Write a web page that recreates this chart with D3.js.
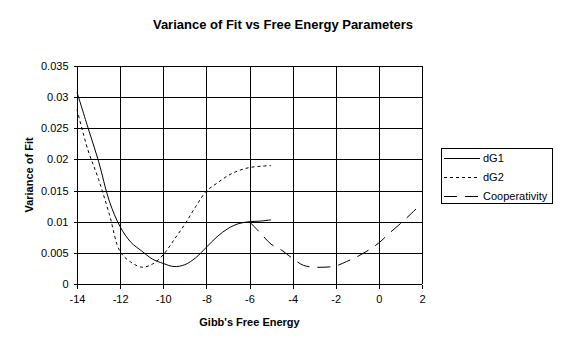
<!DOCTYPE html>
<html>
<head>
<meta charset="utf-8">
<script src="https://cdn.jsdelivr.net/npm/d3@7"></script>
<style>
  body { margin: 0; background: #fff; }
  svg text { font-family: Arial, "Liberation Sans", sans-serif; fill: #000; }
  .axis path, .axis line { stroke: #000; shape-rendering: crispEdges; }
  .grid line { stroke: #000; shape-rendering: crispEdges; }
</style>
</head>
<body>
<div class="chart"></div>
<script>

// Data
var xDG = [-14, -13.5, -13, -12.5, -12, -11.5, -11, -10.5, -10, -9.5, -9, -8.5, -8, -7.5, -7, -6.5, -6, -5.5, -5];
var dG1 = [0.0308, 0.0252, 0.0197, 0.0133, 0.0092, 0.0067, 0.0053, 0.0040, 0.0033, 0.0028, 0.0031, 0.0042, 0.0059, 0.0076, 0.0089, 0.0097, 0.0100, 0.0101, 0.0103];
var dG2 = [0.0280, 0.0216, 0.0168, 0.0112, 0.0052, 0.0035, 0.0027, 0.0032, 0.0047, 0.0071, 0.0096, 0.0124, 0.0149, 0.0162, 0.0174, 0.0182, 0.0187, 0.0189, 0.0190];
var xCoop = [-6, -5.5, -5, -4.5, -4, -3.5, -3, -2.5, -2, -1.5, -1, -0.5, 0, 0.5, 1, 1.5, 2];
var coop = [0.0100, 0.0082, 0.0064, 0.0054, 0.0041, 0.0030, 0.0027, 0.0027, 0.0029, 0.0036, 0.0044, 0.0054, 0.0066, 0.0082, 0.0097, 0.0113, 0.0130];

var xTicks = [-14, -12, -10, -8, -6, -4, -2, 0, 2];
var yTicks = [0, 0.005, 0.01, 0.015, 0.02, 0.025, 0.03, 0.035];

var seriesNames = ["dG1", "dG2", "Cooperativity"];
var dashes = [null, "3,3", "13,8"];

var width = 566, height = 351;
var margin = {top: 66, right: 144, bottom: 67, left: 77};

var svg = d3.select(".chart")
    .append("svg")
        .attr("width", width)
        .attr("height", height);

// Scales
var x = d3.scaleLinear()
    .domain([-14, 2])
    .range([margin.left, width - margin.right]);

var y = d3.scaleLinear()
    .domain([0, 0.035])
    .range([height - margin.bottom, margin.top]);

// Gridlines
svg.append("g")
    .attr("class", "grid")
    .selectAll("line.h")
    .data(yTicks)
    .enter().append("line")
        .attr("x1", x(-14))
        .attr("x2", x(2))
        .attr("y1", function(d) { return Math.round(y(d)) + 0.5; })
        .attr("y2", function(d) { return Math.round(y(d)) + 0.5; });

svg.append("g")
    .attr("class", "grid")
    .selectAll("line.v")
    .data(xTicks)
    .enter().append("line")
        .attr("x1", function(d) { return Math.round(x(d)) + 0.5; })
        .attr("x2", function(d) { return Math.round(x(d)) + 0.5; })
        .attr("y1", y(0))
        .attr("y2", y(0.035));

// Axes (plain hyphen minus, like the original)
var xAxis = d3.axisBottom(x)
    .tickValues(xTicks)
    .tickSize(4)
    .tickPadding(7)
    .tickFormat(function(d) { return String(d); });

var yAxis = d3.axisLeft(y)
    .tickValues(yTicks)
    .tickSize(4)
    .tickPadding(5)
    .tickFormat(function(d) { return String(+d.toFixed(3)); });

svg.append("g")
    .attr("class", "axis")
    .attr("transform", "translate(0," + Math.round(y(0)) + ".5)")
    .call(xAxis)
    .call(function(g) { g.selectAll("text").style("font-size", "11px"); g.select(".domain").attr("d", "M" + x(-14) + ",0H" + x(2)); });

svg.append("g")
    .attr("class", "axis")
    .attr("transform", "translate(" + Math.round(x(-14)) + ".5,0)")
    .call(yAxis)
    .call(function(g) { g.selectAll("text").style("font-size", "11px"); g.select(".domain").attr("d", "M0," + y(0) + "V" + y(0.035)); });

svg.selectAll(".axis text").attr("fill", "#000");

// Lines
var line = d3.line()
    .x(function(d) { return x(d[0]); })
    .y(function(d) { return y(d[1]); })
    .curve(d3.curveCatmullRom);

var series = [
    d3.zip(xDG, dG1),
    d3.zip(xDG, dG2),
    d3.zip(xCoop, coop)
];

svg.selectAll(".series")
    .data(series)
    .enter().append("path")
        .attr("class", "series")
        .attr("d", line)
        .attr("fill", "none")
        .attr("stroke", "#000")
        .attr("stroke-width", 1)
        .attr("stroke-dasharray", function(d, i) { return dashes[i]; });

// Titles
svg.append("text")
    .attr("x", 283)
    .attr("y", 29)
    .attr("text-anchor", "middle")
    .style("font-size", "13px")
    .style("font-weight", "bold")
    .text("Variance of Fit vs Free Energy Parameters");

svg.append("text")
    .attr("x", (x(-14) + x(2)) / 2)
    .attr("y", 326)
    .attr("text-anchor", "middle")
    .style("font-size", "11px")
    .style("font-weight", "bold")
    .text("Gibb's Free Energy");

svg.append("text")
    .attr("transform", "translate(33," + (y(0) + y(0.035)) / 2 + ") rotate(-90)")
    .attr("text-anchor", "middle")
    .style("font-size", "11px")
    .style("font-weight", "bold")
    .text("Variance of Fit");

// Legend
var legend = svg.append("g")
    .attr("transform", "translate(441,148)");

legend.append("rect")
    .attr("x", 0.5)
    .attr("y", 0.5)
    .attr("width", 111)
    .attr("height", 55)
    .attr("fill", "#fff")
    .attr("stroke", "#000");

var entry = legend.selectAll(".entry")
    .data(seriesNames)
    .enter().append("g")
        .attr("class", "entry")
        .attr("transform", function(d, i) { return "translate(0," + (10 + i * 19) + ")"; });

entry.append("line")
    .attr("x1", 3)
    .attr("x2", 39)
    .attr("y1", 0.5)
    .attr("y2", 0.5)
    .attr("stroke", "#000")
    .attr("stroke-dasharray", function(d, i) { return dashes[i]; });

entry.append("text")
    .attr("x", 42)
    .attr("y", 4)
    .style("font-size", "11px")
    .text(function(d) { return d; });

</script>
</body>
</html>
